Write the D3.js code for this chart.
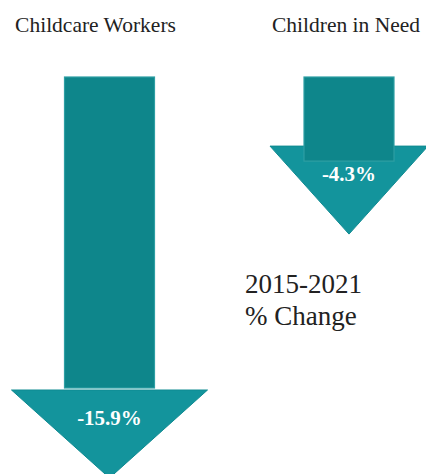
<!DOCTYPE html>
<html>
<head>
<meta charset="utf-8">
<script src="https://cdn.jsdelivr.net/npm/d3@7"></script>
<style>
  html, body { margin: 0; padding: 0; background: #fff; }
  svg { display: block; }
</style>
</head>
<body>
<svg id="chart" width="426" height="474"></svg>
<script>
// ---- data ----
const categories = ["Childcare Workers", "Children in Need"];
const changes = [-15.9, -4.3];
const valueLabels = ["-15.9%", "-4.3%"];
const noteLines = ["2015-2021", "% Change"];

// ---- styles / layout ----
const FONT = "'Times New Roman', 'Liberation Serif', Times, 'DejaVu Serif', serif";
const shaftColor = "#0e868b", shaftStroke = "#2e9fa4";
const headColor = "#13949c", headStroke = "#0f8a91";
const shaftWidth = 90;
const headHalfWidth = [98, 79];
const headOffset = [2, -15];   // head base relative to shaft end
const headHeight = 88;

const svg = d3.select("#chart").attr("font-family", FONT);

const x = d3.scalePoint().domain(categories).range([109.5, 349]).padding(0);
const y = d3.scaleLinear().domain([0, 15.9]).range([77, 388]);

const data = categories.map((c, i) => ({ cat: c, v: changes[i], label: valueLabels[i], i }));

// titles
svg.selectAll("text.title").data(data).join("text")
  .attr("class", "title")
  .attr("x", d => x(d.cat) + (d.i === 0 ? -14 : -3))
  .attr("y", 32)
  .attr("text-anchor", "middle")
  .attr("font-family", FONT)
  .attr("font-size", 21.5)
  .attr("fill", "#222")
  .text(d => d.cat);

const g = svg.selectAll("g.arrow").data(data).join("g").attr("class", "arrow");

// heads (triangles)
g.append("path")
  .attr("d", d => {
    const cx = x(d.cat);
    const base = y(Math.abs(d.v)) + headOffset[d.i];
    const hw = headHalfWidth[d.i];
    return `M${cx - hw},${base}L${cx + hw},${base}L${cx},${base + headHeight}Z`;
  })
  .attr("fill", headColor)
  .attr("stroke", headStroke)
  .attr("stroke-width", 1);

// shafts
g.append("rect")
  .attr("x", d => x(d.cat) - shaftWidth / 2)
  .attr("y", y(0))
  .attr("width", shaftWidth)
  .attr("height", d => y(Math.abs(d.v)) - y(0))
  .attr("fill", shaftColor)
  .attr("stroke", shaftStroke)
  .attr("stroke-width", 1.2);

// value labels
g.append("text")
  .attr("x", d => x(d.cat))
  .attr("y", d => y(Math.abs(d.v)) + headOffset[d.i] + 35)
  .attr("text-anchor", "middle")
  .attr("font-family", FONT)
  .attr("font-size", 21)
  .attr("font-weight", "bold")
  .attr("fill", "#fff")
  .text(d => d.label);

// note
svg.selectAll("text.note").data(noteLines).join("text")
  .attr("class", "note")
  .attr("x", 245)
  .attr("y", (d, i) => 293 + i * 32)
  .attr("font-family", FONT)
  .attr("font-size", 27)
  .attr("fill", "#222")
  .text(d => d);
</script>
</body>
</html>
